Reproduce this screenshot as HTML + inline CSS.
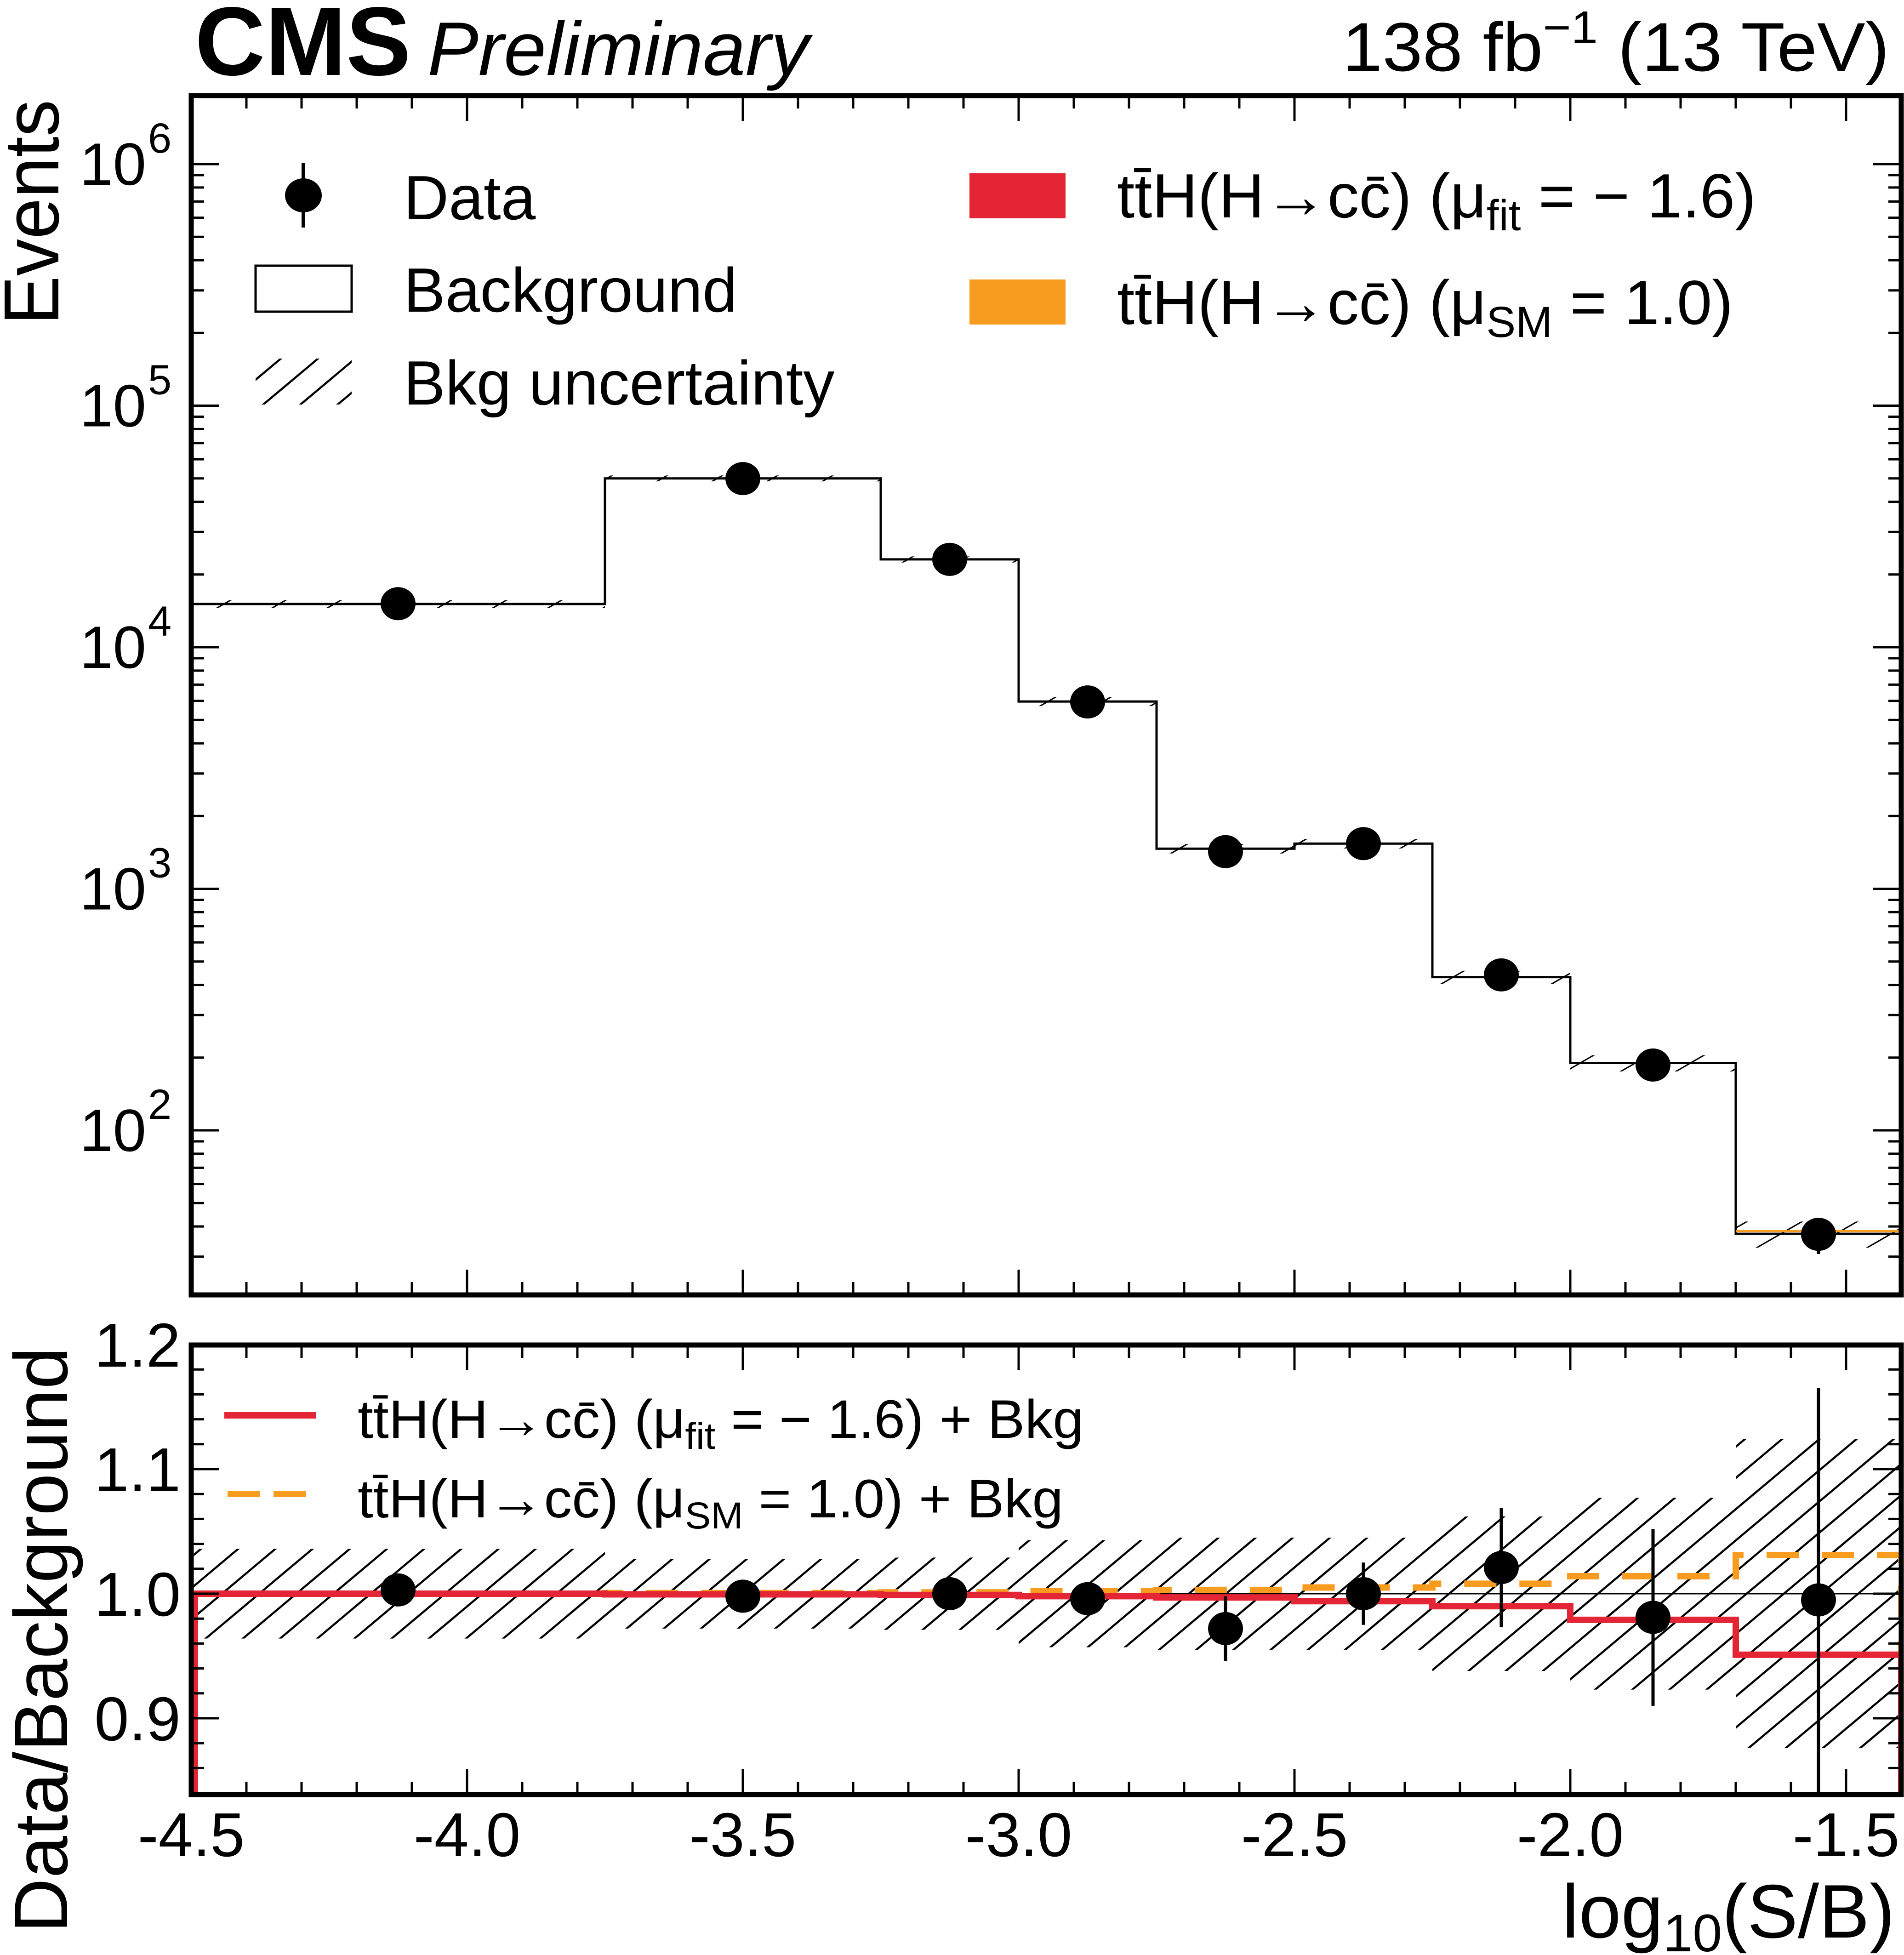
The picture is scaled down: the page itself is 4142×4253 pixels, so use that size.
<!DOCTYPE html>
<html><head><meta charset="utf-8"><style>
html,body{margin:0;padding:0;background:#fff;}
svg{display:block;font-family:"Liberation Sans",Arial,sans-serif;}
</style></head><body>
<svg id="chart" width="4142" height="4253" viewBox="0 0 4142 4253" xmlns="http://www.w3.org/2000/svg">
<defs>
<pattern id="hatch" patternUnits="userSpaceOnUse" width="52" height="52" patternTransform="rotate(50)">
<line x1="0" y1="0" x2="0" y2="52" stroke="#000" stroke-width="9"/>
</pattern>
<pattern id="hatchMain" patternUnits="userSpaceOnUse" width="60" height="60" patternTransform="rotate(60)">
<line x1="0" y1="0" x2="0" y2="60" stroke="#000" stroke-width="6"/>
</pattern>
<clipPath id="clipMain"><rect x="416" y="208" width="3720" height="2609"/></clipPath>
<clipPath id="clipRatio"><rect x="416" y="2926" width="3720" height="978"/></clipPath>
</defs>
<g id="layer-main"></g>
<g id="layer-ratio"></g>
<g id="layer-axes"></g>

<!-- Header -->
<text x="424" y="163" font-size="212" font-weight="bold" textLength="470" lengthAdjust="spacingAndGlyphs">CMS</text>
<text x="930" y="163" font-size="165" font-style="italic" textLength="830" lengthAdjust="spacingAndGlyphs">Preliminary</text>
<text x="2920" y="154" font-size="150" textLength="1190" lengthAdjust="spacingAndGlyphs">138 fb<tspan dy="-60" font-size="100">−1</tspan><tspan dy="60"> (13 TeV)</tspan></text>

<!-- Axis titles -->
<text transform="translate(127,217) rotate(-90)" text-anchor="end" font-size="170" textLength="490" lengthAdjust="spacingAndGlyphs">Events</text>
<text transform="translate(146,2930) rotate(-90)" text-anchor="end" font-size="165">Data/Background</text>
<text x="4122" y="4215" text-anchor="end" font-size="165">log<tspan font-size="115" dy="30">10</tspan><tspan dy="-30">(S/B)</tspan></text>

<!-- Main legend -->
<g>
<g>
<line x1="660" y1="355" x2="660" y2="495" stroke="#000" stroke-width="8"/>
<ellipse cx="660" cy="425" rx="40" ry="37" fill="#000"/>
<text x="878" y="477" font-size="136">Data</text>
</g>
<g>
<rect x="556" y="578" width="209" height="100" fill="#fff" stroke="#000" stroke-width="5"/>
<text x="878" y="678" font-size="136">Background</text>
</g>
<g>
<rect x="556" y="780" width="209" height="100" fill="url(#hatch)"/>
<text x="878" y="880" font-size="136">Bkg uncertainty</text>
</g>
<g>
<rect x="2109" y="377" width="209" height="98" fill="#e42536"/>
<text x="2430" y="473" font-size="136" textLength="1390" lengthAdjust="spacingAndGlyphs">tt̄H(H→cc̄) (μ<tspan font-size="95" dy="28">fit</tspan><tspan dy="-28"> = − 1.6)</tspan></text>
</g>
<g>
<rect x="2109" y="608" width="209" height="98" fill="#f89c20"/>
<text x="2430" y="705" font-size="136" textLength="1340" lengthAdjust="spacingAndGlyphs">tt̄H(H→cc̄) (μ<tspan font-size="95" dy="28">SM</tspan><tspan dy="-28"> = 1.0)</tspan></text>
</g>
</g>

<!-- Ratio legend -->
<g>
<g>
<line x1="488" y1="3079" x2="688" y2="3079" stroke="#e42536" stroke-width="14"/>
<text x="778" y="3128" font-size="118" textLength="1580" lengthAdjust="spacingAndGlyphs">tt̄H(H→cc̄) (μ<tspan font-size="82" dy="24">fit</tspan><tspan dy="-24"> = − 1.6) + Bkg</tspan></text>
</g>
<g>
<line x1="495" y1="3250" x2="680" y2="3250" stroke="#f89c20" stroke-width="14" stroke-dasharray="70,30,70,30"/>
<text x="778" y="3301" font-size="118" textLength="1535" lengthAdjust="spacingAndGlyphs">tt̄H(H→cc̄) (μ<tspan font-size="82" dy="24">SM</tspan><tspan dy="-24"> = 1.0) + Bkg</tspan></text>
</g>
</g>

<script>
// ---- data ----
const binEdges = [-4.5, -3.75, -3.25, -3.0, -2.75, -2.5, -2.25, -2.0, -1.7, -1.4];
const bkgValues = [15100, 50000, 23100, 5960, 1466, 1538, 431, 190, 37.3];
const bkgUncRel = [0.036, 0.028, 0.029, 0.043, 0.045, 0.045, 0.062, 0.077, 0.124];
const dataRatio = [1.003, 0.998, 1.0, 0.996, 0.972, 1.0, 1.021, 0.981, 0.995];
const dataRatioErr = [0.008, 0.005, 0.007, 0.013, 0.026, 0.025, 0.048, 0.071, 0.17];
const fitRatio = [1.0, 0.9995, 0.999, 0.998, 0.997, 0.994, 0.990, 0.979, 0.951];
const smRatio = [1.0, 1.0005, 1.001, 1.002, 1.003, 1.005, 1.008, 1.014, 1.031];
const xTickLabels = ["-4.5", "-4.0", "-3.5", "-3.0", "-2.5", "-2.0", "-1.5"];
const yMainTickExps = [2, 3, 4, 5, 6];
const yRatioTickLabels = ["0.9", "1.0", "1.1", "1.2"];

// ---- axes ----
const L = 416, R = 4136, MT = 208, MB = 2817, RT = 2926, RB = 3904;
function xPos(v) { return L + (v + 4.5) * 1200; }
function yMain(v) { return 357 + (6 - Math.log10(v)) * 525.5; }
function yRatio(r) { return 3467 - (r - 1) * 2710; }

const NS = "http://www.w3.org/2000/svg";
function mk(tag, attrs, parent) {
  const e = document.createElementNS(NS, tag);
  for (const k in attrs) e.setAttribute(k, attrs[k]);
  parent.appendChild(e);
  return e;
}
const gMain = document.getElementById("layer-main");
const gRatio = document.getElementById("layer-ratio");
const gAx = document.getElementById("layer-axes");
const cMain = mk("g", { "clip-path": "url(#clipMain)" }, gMain);
const cRatio = mk("g", { "clip-path": "url(#clipRatio)" }, gRatio);

// main: uncertainty band
bkgValues.forEach((b, i) => {
  const x0 = xPos(binEdges[i]), x1 = xPos(binEdges[i + 1]);
  const yt = yMain(b * (1 + bkgUncRel[i])), yb = yMain(b * (1 - bkgUncRel[i]));
  const r = mk("rect", { x: x0, y: yt, width: x1 - x0, height: yb - yt, fill: "url(#hatchMain)" }, cMain);
  
  
});
// main: background histogram
let d = "";
bkgValues.forEach((b, i) => {
  const y = yMain(b);
  d += (i === 0 ? "M" : "L") + xPos(binEdges[i]) + "," + y + "L" + xPos(binEdges[i + 1]) + "," + y;
});
d += "L" + xPos(binEdges[binEdges.length - 1]) + "," + (MB + 10);
const hist = mk("path", { d: d, fill: "none", stroke: "#000", "stroke-width": 5 }, cMain);


// main: signal (orange) on last bin
{
  const i = bkgValues.length - 1;
  const s = mk("line", { x1: xPos(binEdges[i]), x2: xPos(binEdges[i + 1]), y1: yMain(bkgValues[i] * smRatio[i] * 0.995), y2: yMain(bkgValues[i] * smRatio[i] * 0.995), stroke: "#f89c20", "stroke-width": 5 }, cMain);
  
  
}
// main: data points
bkgValues.forEach((b, i) => {
  const xc = xPos((binEdges[i] + binEdges[i + 1]) / 2);
  const v = b * dataRatio[i], e = b * dataRatioErr[i];
  const g = mk("g", {}, cMain);
  
  
  mk("line", { x1: xc, x2: xc, y1: yMain(v + e), y2: yMain(Math.max(v - e, 1)), stroke: "#000", "stroke-width": 7 }, g);
  mk("ellipse", { cx: xc, cy: yMain(v), rx: 38, ry: 36, fill: "#000" }, g);
});

// ratio: uncertainty band
bkgValues.forEach((b, i) => {
  const x0 = xPos(binEdges[i]), x1 = xPos(binEdges[i + 1]);
  const yt = yRatio(1 + bkgUncRel[i]), yb = yRatio(1 - bkgUncRel[i]);
  const r = mk("rect", { x: x0, y: yt, width: x1 - x0, height: yb - yt, fill: "url(#hatch)" }, cRatio);
  
  
});
// unity line
{
  const u = mk("line", { x1: L, x2: R, y1: yRatio(1), y2: yRatio(1), stroke: "#000", "stroke-width": 3 }, cRatio);
  
  
}
function stepPath(vals) {
  let p = "M" + (xPos(binEdges[0]) + 8) + "," + (RB + 20);
  vals.forEach((r, i) => {
    const xa = i === 0 ? xPos(binEdges[i]) + 8 : xPos(binEdges[i]);
    p += "L" + xa + "," + yRatio(r) + "L" + xPos(binEdges[i + 1]) + "," + yRatio(r);
  });
  p += "L" + xPos(binEdges[binEdges.length - 1]) + "," + (RB + 20);
  return p;
}
{
  const sm = mk("path", { d: stepPath(smRatio), fill: "none", stroke: "#f89c20", "stroke-width": 14, "stroke-dasharray": "70,50" }, cRatio);
  
  
  const fit = mk("path", { d: stepPath(fitRatio), fill: "none", stroke: "#e42536", "stroke-width": 14 }, cRatio);
  
  
}
// ratio data points
dataRatio.forEach((r, i) => {
  const xc = xPos((binEdges[i] + binEdges[i + 1]) / 2);
  const g = mk("g", {}, cRatio);
  
  
  mk("line", { x1: xc, x2: xc, y1: yRatio(r + dataRatioErr[i]), y2: yRatio(r - dataRatioErr[i]), stroke: "#000", "stroke-width": 7 }, g);
  mk("ellipse", { cx: xc, cy: yRatio(r), rx: 38, ry: 36, fill: "#000" }, g);
});

// ---- frames & ticks ----
function frame(top, bot, name) {
  const f = mk("rect", { x: L, y: top, width: R - L, height: bot - top, fill: "none", stroke: "#000", "stroke-width": 11 }, gAx);
  
  
}
frame(MT, MB, "main-frame");
frame(RT, RB, "ratio-frame");
function tick(x1, y1, x2, y2) {
  mk("line", { x1: x1, y1: y1, x2: x2, y2: y2, stroke: "#000", "stroke-width": 5 }, gAx);
}
for (let k = 0; k <= 31; k++) {
  const v = -4.5 + k * 0.1;
  const x = xPos(v);
  if (x > R - 3) continue;
  const major = k % 5 === 0;
  const len = major ? 55 : 28;
  [[MT, MB], [RT, RB]].forEach(([t, b]) => {
    tick(x, t, x, t + len);
    tick(x, b, x, b - len);
  });
}
xTickLabels.forEach((lab, k) => {
  const t = mk("text", { x: xPos(-4.5 + k * 0.5), y: 4038, "text-anchor": "middle", "font-size": 135 }, gAx);
  t.textContent = lab;
  
  
});
for (let e = 1; e <= 6; e++) {
  for (let m = 1; m <= 9; m++) {
    const v = m * Math.pow(10, e);
    const y = yMain(v);
    if (y < MT + 3 || y > MB - 3) continue;
    const len = m === 1 ? 61 : 28;
    tick(L, y, L + len, y);
    tick(R, y, R - len, y);
  }
}
yMainTickExps.forEach(ex => {
  const y = yMain(Math.pow(10, ex));
  const t = mk("text", { x: 318, y: y + 45, "text-anchor": "end", "font-size": 130 }, gAx);
  t.textContent = "10";
  
  
  const s = mk("text", { x: 322, y: y - 25, "font-size": 92 }, gAx);
  s.textContent = String(ex);
  
  
});
for (let k = 0; k <= 18; k++) {
  const r = 0.84 + k * 0.02;
  const y = yRatio(r);
  if (y < RT + 3 || y > RB - 3) continue;
  const major = Math.abs((r * 10) - Math.round(r * 10)) < 1e-6;
  const len = major ? 61 : 28;
  tick(L, y, L + len, y);
  tick(R, y, R - len, y);
}
yRatioTickLabels.forEach(lab => {
  const y = yRatio(parseFloat(lab));
  const t = mk("text", { x: 393, y: y + 48, "text-anchor": "end", "font-size": 135 }, gAx);
  t.textContent = lab;
  
  
});
</script>
</svg>
</body></html>
